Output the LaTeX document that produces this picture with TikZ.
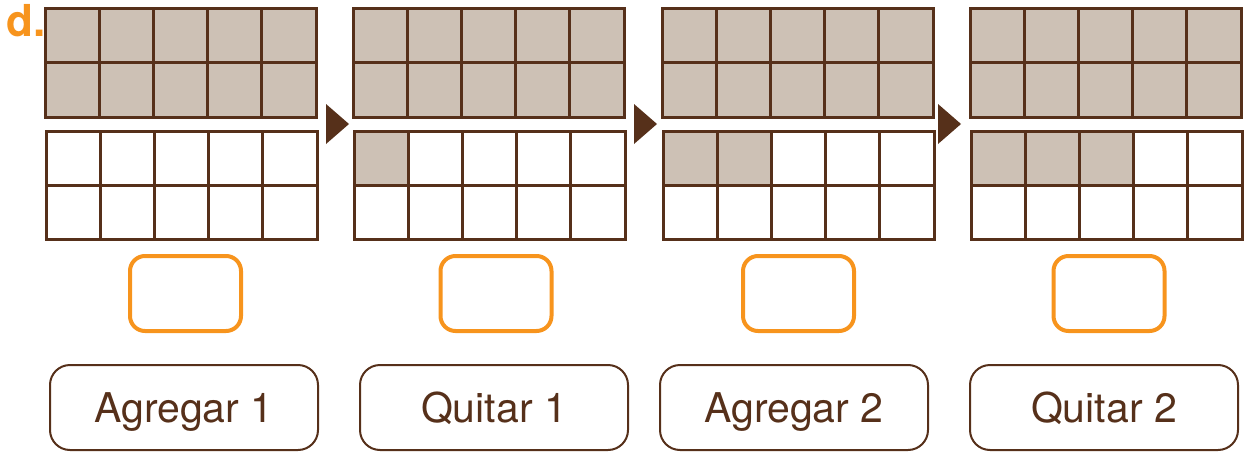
\documentclass[tikz,border=0pt]{standalone}
\usepackage{fontspec}
\setmainfont{TeX Gyre Heros}
\usetikzlibrary{positioning}
\definecolor{barna}{HTML}{56301A}
\definecolor{homok}{HTML}{CDC1B5}
\definecolor{narancs}{HTML}{F7941D}
\tikzset{
  racs/.style={draw=barna,line width=3pt},
  nyilhegy/.style={fill=barna},
  valasz/.style={draw=narancs,line width=4pt,rounded corners=15pt,
    minimum width=111pt,minimum height=75pt},
  cimke/.style={draw=barna,line width=2pt,rounded corners=20pt,text=barna,
    minimum width=268pt,minimum height=85pt,text height=30pt,text depth=0pt,
    font=\fontsize{41}{48}\selectfont},
}

\begin{document}
\begin{tikzpicture}[x=1pt,y=-1pt]
  \useasboundingbox (0,0) rectangle (1247,460);
  \node[anchor=base west,inner sep=0pt,text=narancs,
    font=\bfseries\fontsize{44}{48}\selectfont] (betu) at (6,37) {d.};
  % panels: grid left edge / shaded cells / box centres / label
  \foreach \gx/\sz/\vx/\cx/\szoveg [count=\i] in
      {45/0/185.5/184/Agregar 1, 353/1/496/494/Quitar 1,
       662/2/798.5/794/Agregar 2, 970/3/1109/1104/Quitar 2}{
    % upper ten frame, all filled
    \fill[homok] (\gx,9) rectangle ({\gx+271},117);
    \draw[racs] (\gx,9) rectangle ({\gx+271},117);
    \draw[racs] (\gx,63) -- ({\gx+271},63);
    \foreach \c in {1,...,4}
      \draw[racs] ({\gx+54.2*\c},9) -- ({\gx+54.2*\c},117);
    % lower ten frame
    \fill[homok] ({\gx+1},131) rectangle ({\gx+1+54.2*\sz},185);
    \draw[racs] ({\gx+1},131) rectangle ({\gx+272},239);
    \draw[racs] ({\gx+1},185) -- ({\gx+272},185);
    \foreach \c in {1,...,4}
      \draw[racs] ({\gx+1+54.2*\c},131) -- ({\gx+1+54.2*\c},239);
    \node[valasz] (ures\i) at (\vx,293.5) {};
    \node[cimke] (muvelet\i) at (\cx,407.5) {\szoveg};
  }
  % arrows between the panels
  \foreach \ax in {326,634,938}
    \fill[nyilhegy] (\ax,104) -- ({\ax+23},124) -- (\ax,144) -- cycle;
\end{tikzpicture}
\end{document}
